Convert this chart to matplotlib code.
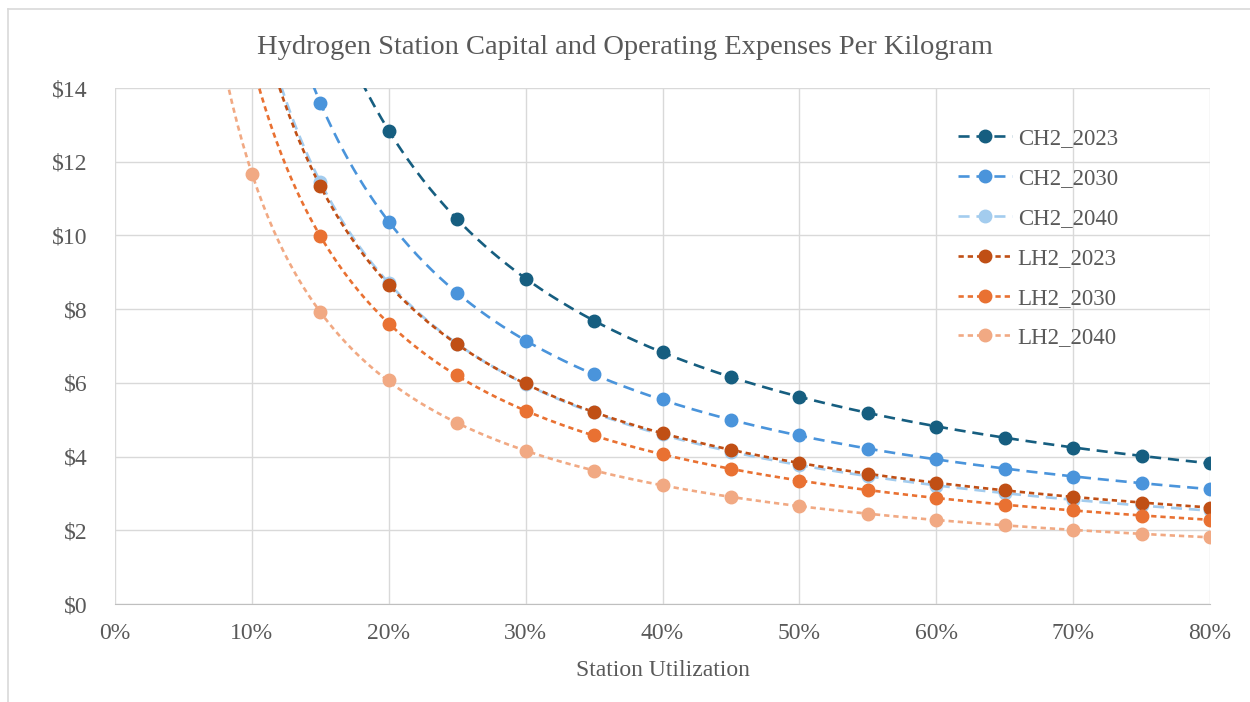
import numpy as np
import matplotlib
matplotlib.use('Agg')
from matplotlib import pyplot as plt
from matplotlib.ticker import FuncFormatter, MultipleLocator
from matplotlib.lines import Line2D

plt.rcParams['font.family'] = ['Liberation Serif', 'DejaVu Serif']

# station utilization (x) and $/kg values
util = [0.10, 0.15, 0.20, 0.25, 0.30, 0.35, 0.40, 0.45, 0.50, 0.55, 0.60, 0.65, 0.70, 0.75, 0.80]

ch2_2023 = [None, None, 12.84, 10.44, 8.83, 7.69, 6.83, 6.17, 5.62, 5.19, 4.81, 4.51, 4.24, 4.02, 3.82]
ch2_2030 = [None, 13.60, 10.37, 8.45, 7.14, 6.23, 5.55, 4.99, 4.58, 4.21, 3.93, 3.67, 3.45, 3.27, 3.13]
ch2_2040 = [None, 11.46, 8.70, 7.05, 5.97, 5.20, 4.60, 4.12, 3.76, 3.46, 3.21, 3.00, 2.83, 2.68, 2.55]
lh2_2023 = [None, 11.34, 8.65, 7.05, 5.99, 5.20, 4.63, 4.18, 3.83, 3.53, 3.29, 3.09, 2.91, 2.75, 2.61]
lh2_2030 = [None, 9.98, 7.61, 6.20, 5.24, 4.58, 4.07, 3.66, 3.35, 3.09, 2.87, 2.69, 2.55, 2.40, 2.28]
lh2_2040 = [11.67, 7.93, 6.08, 4.90, 4.15, 3.62, 3.22, 2.91, 2.66, 2.43, 2.28, 2.14, 2.01, 1.90, 1.81]

names = ['CH2_2023', 'CH2_2030', 'CH2_2040', 'LH2_2023', 'LH2_2030', 'LH2_2040']
series = [ch2_2023, ch2_2030, ch2_2040, lh2_2023, lh2_2030, lh2_2040]
colors = ['#165E80', '#4A94DB', '#A3CCEE', '#C04F15', '#E97132', '#F1A983']

long_dash = (4.2, 2.6)
short_dash = (2.0, 1.5)
txt = '#595959'

fig = plt.figure(figsize=(12.5, 7.02), dpi=100)
ax = fig.add_axes([0.092, 0.1396, 0.876, 0.735])

xs = np.linspace(0.05, 0.8, 400)
for name, vals, col in zip(names, series, colors):
    x = np.array([u for u, v in zip(util, vals) if v is not None])
    y = np.array([v for v in vals if v is not None])
    # cost per kg ~ fixed/utilization + variable
    a, c = np.polyfit(1.0 / x, y, 1)
    fit = a / xs + c
    dash = long_dash if name.startswith('CH2') else short_dash
    ax.plot(xs, fit, color=col, lw=1.9, dashes=dash, zorder=2)
    ax.plot(x, y, 'o', color=col, ms=9, zorder=3)
    ax.plot([], [], color=col, lw=1.9, dashes=dash, marker='o', ms=9, label=name)

ax.set_xlim(0, 0.8)
ax.set_ylim(0, 14)
ax.xaxis.set_major_locator(MultipleLocator(0.1))
ax.yaxis.set_major_locator(MultipleLocator(2))
ax.xaxis.set_major_formatter(FuncFormatter(lambda v, p: f'{v*100:.0f}%'))
ax.yaxis.set_major_formatter(FuncFormatter(lambda v, p: f'${v:.0f}'))
ax.grid(True, color='#D9D9D9', lw=1.0)
ax.set_axisbelow(True)
for s in ['top', 'right', 'left']:
    ax.spines[s].set_visible(False)
ax.spines['bottom'].set_color('#BFBFBF')
ax.tick_params(length=0, labelsize=17, colors=txt)
ax.tick_params(axis='x', pad=14)
ax.tick_params(axis='y', pad=20)

ax.set_xlabel('Station Utilization', fontsize=17, color=txt, labelpad=11)
fig.text(0.5, 0.932, 'Hydrogen Station Capital and Operating Expenses Per Kilogram',
         ha='center', va='center', fontsize=20.5, color=txt)

ax.legend(loc='upper left', bbox_to_anchor=(0.770, 0.922), frameon=False,
          fontsize=16.5, labelcolor=txt, handlelength=2.35,
          labelspacing=0.82, handletextpad=0.25, borderpad=0, borderaxespad=0)

# chart area border (top and left edges visible)
fig.add_artist(Line2D([0.0064, 0.0064], [0.0, 0.9865], transform=fig.transFigure,
                      color='#D9D9D9', lw=1.2))
fig.add_artist(Line2D([0.0064, 1.0], [0.9865, 0.9865], transform=fig.transFigure,
                      color='#D9D9D9', lw=1.2))

fig.savefig('out.png', dpi=100)
